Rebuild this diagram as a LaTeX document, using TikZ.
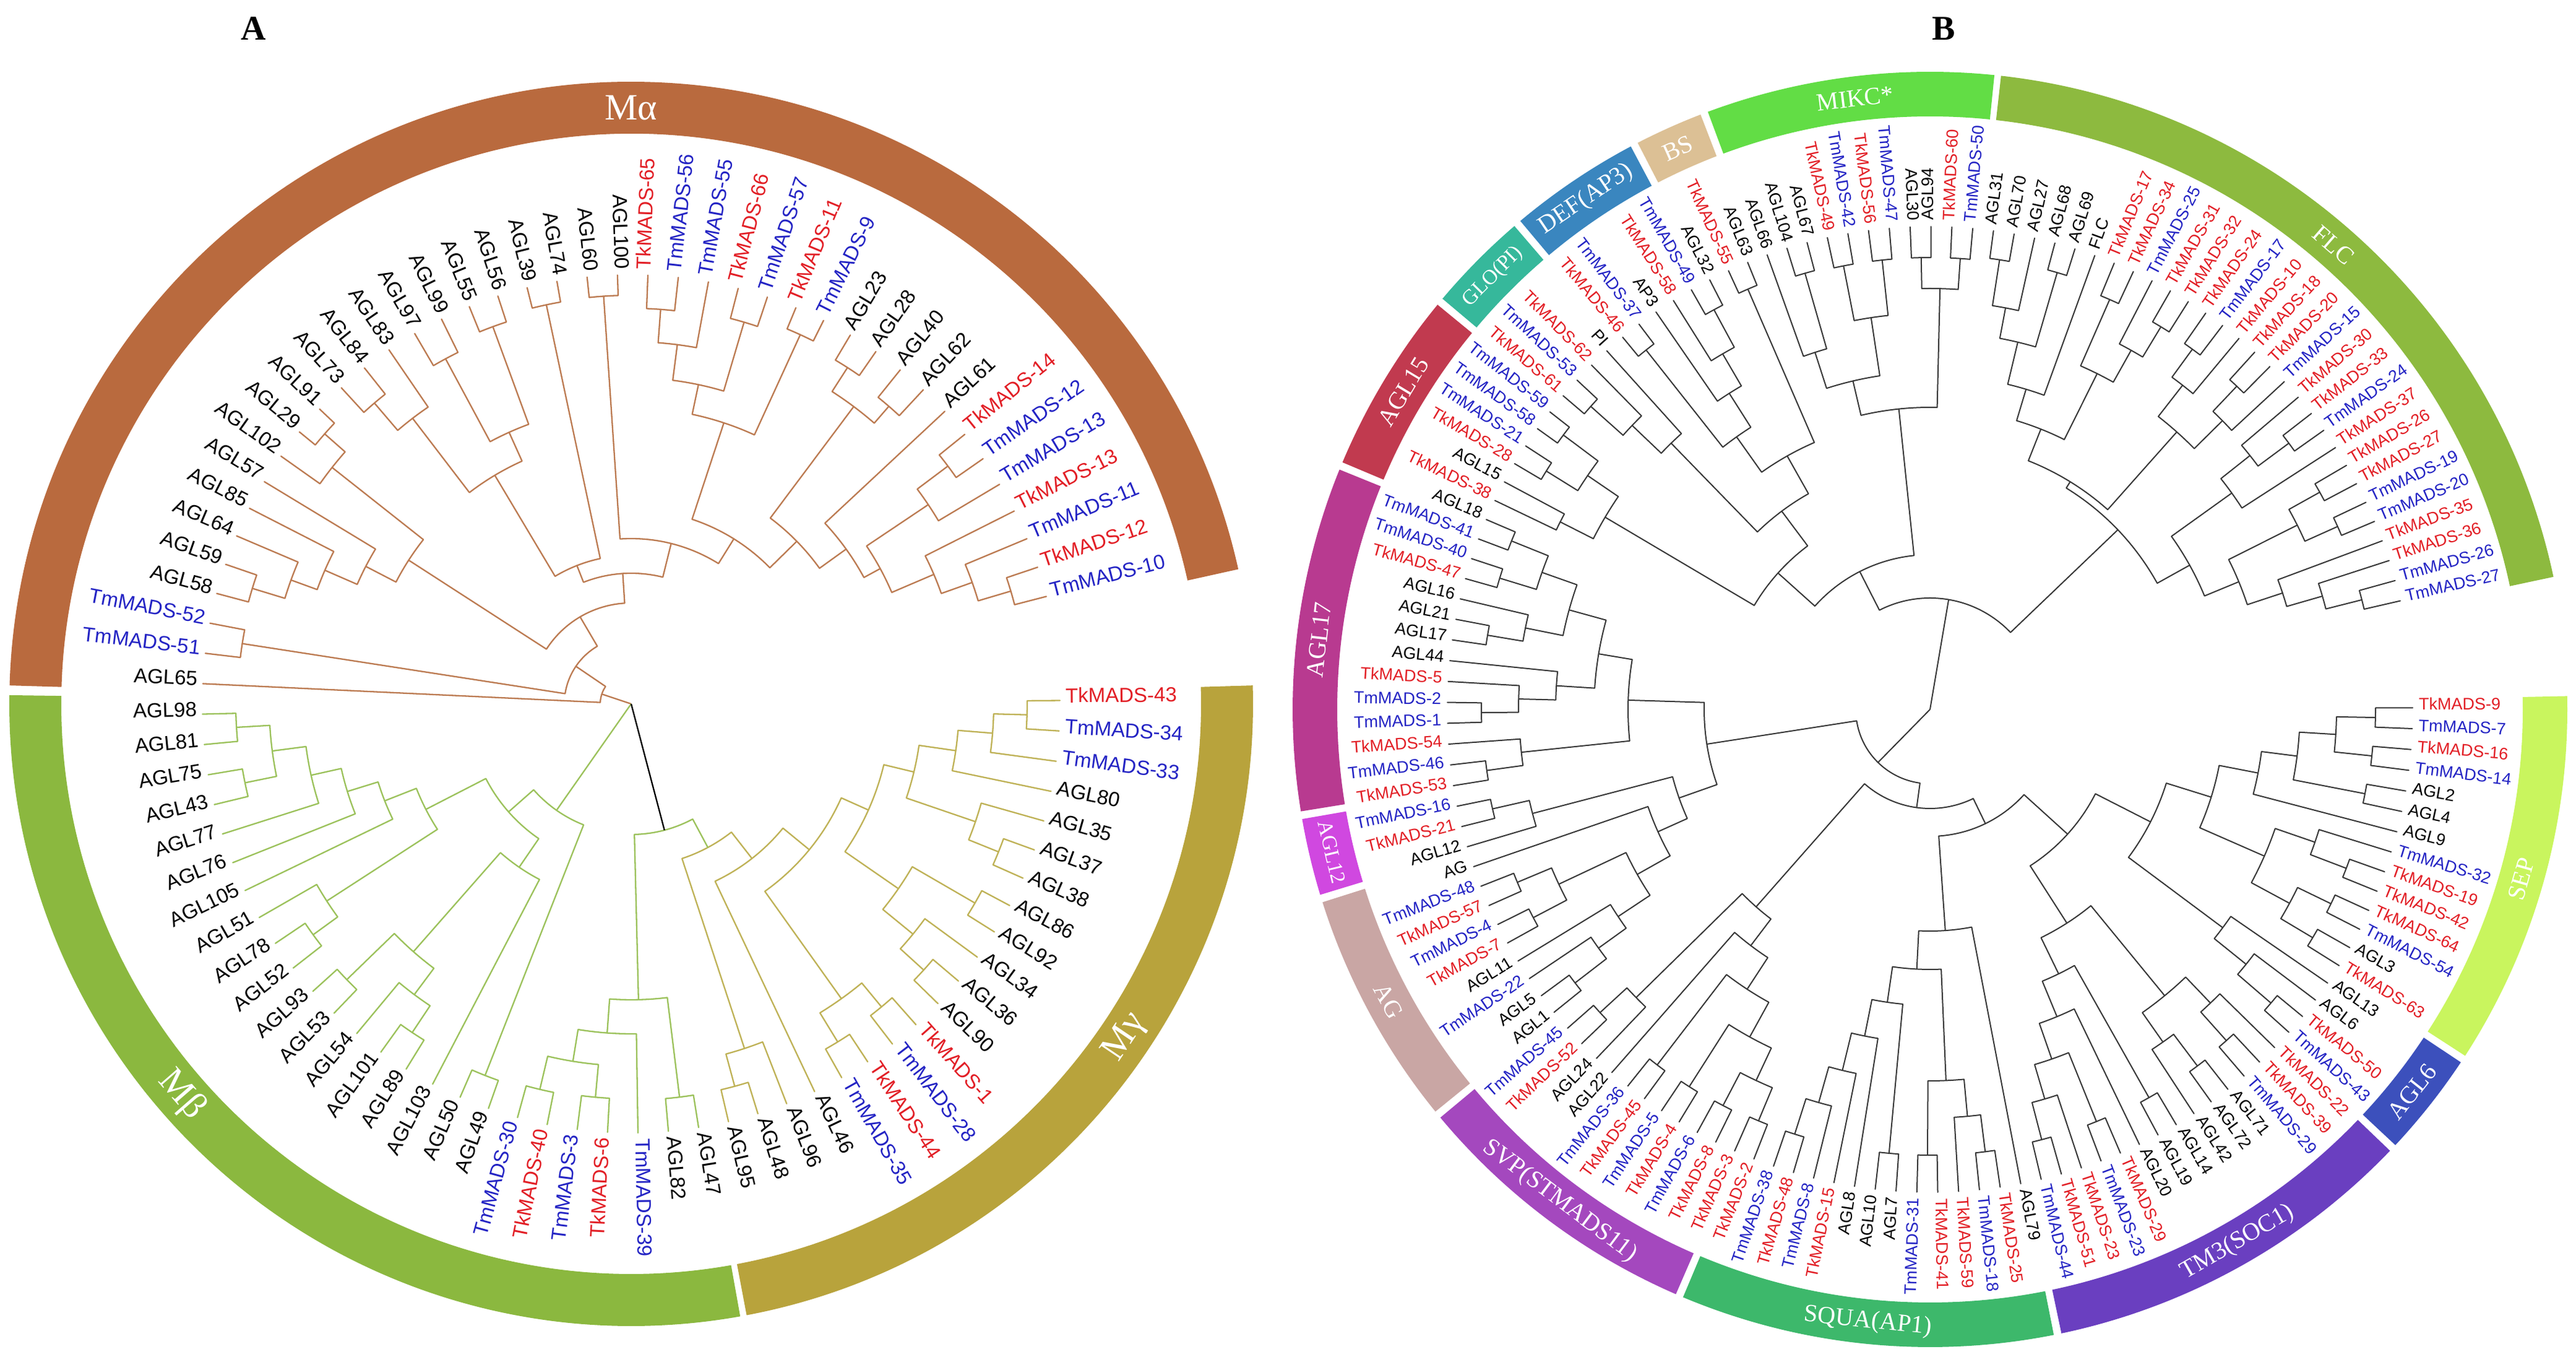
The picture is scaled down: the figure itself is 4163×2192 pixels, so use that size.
\documentclass[tikz,border=0pt]{standalone}
\usepackage{fontspec}
\setmainfont{Liberation Serif}
\newfontfamily\labfont{Liberation Sans}
\definecolor{cRed}{HTML}{E21F26}
\definecolor{cBlue}{HTML}{2424C4}
\definecolor{ringMa}{HTML}{B96A3E}
\definecolor{ringMb}{HTML}{8BB83F}
\definecolor{ringMg}{HTML}{B8A33C}
\definecolor{lineMa}{HTML}{BC7B52}
\definecolor{lineMb}{HTML}{9CC25C}
\definecolor{lineMg}{HTML}{BFB257}
\definecolor{lineB}{HTML}{383838}
\definecolor{rFLC}{HTML}{8DBA3F}
\definecolor{rMIKC}{HTML}{62DD45}
\definecolor{rBS}{HTML}{DCC095}
\definecolor{rDEF}{HTML}{3A86BF}
\definecolor{rGLO}{HTML}{36B89B}
\definecolor{rAGLf}{HTML}{C13A4F}
\definecolor{rAGLs}{HTML}{B83A90}
\definecolor{rAGLt}{HTML}{D048E0}
\definecolor{rAG}{HTML}{C9A6A4}
\definecolor{rSVP}{HTML}{A448BE}
\definecolor{rSQUA}{HTML}{3DB86B}
\definecolor{rTM}{HTML}{6A3FC0}
\definecolor{rAGLx}{HTML}{3C50BC}
\definecolor{rSEP}{HTML}{C9F55E}
\tikzset{
  leafA/.style={font=\labfont\fontsize{33}{33}\selectfont,inner sep=0pt,text height=0.72em,text depth=0pt},
  leafB/.style={font=\labfont\fontsize{27}{27}\selectfont,inner sep=0pt,text height=0.72em,text depth=0pt},
  leaf/.style={leafA},
  cr/.style={text=cRed}, cb/.style={text=cBlue}, ck/.style={text=black},
  lnMa/.style={draw=lineMa,line width=2.3pt},
  lnMb/.style={draw=lineMb,line width=2.3pt},
  lnMg/.style={draw=lineMg,line width=2.3pt},
  lnB/.style={draw=lineB,line width=2pt},
  br/.style={lnMa},
  seglab/.style={text=white,inner sep=0pt},
  segA/.style={font=\fontsize{60}{60}\selectfont},
  segB/.style={font=\fontsize{40}{40}\selectfont},
  segBs/.style={font=\fontsize{34}{34}\selectfont},
  panlab/.style={font=\bfseries\fontsize{56}{56}\selectfont,inner sep=0pt}
}
\newcommand\TLeaf[3]{%
  \pgfmathsetmacro\tmpLa{\Astart+(#1-1)*\Astep}%
  \expandafter\xdef\csname tA@\Pfx#1\endcsname{\tmpLa}%
  \expandafter\xdef\csname tR@\Pfx#1\endcsname{\Rtip}%
  \coordinate (\Pfx#1) at (\tmpLa:\Rtip pt);%
  \pgfmathsetmacro\tmpLc{cos(\tmpLa)}%
  \ifdim\tmpLc pt<0pt\relax
    \pgfmathsetmacro\tmpLr{\tmpLa+180}%
    \node[leaf,#3,rotate=\tmpLr,anchor=east] (\Pfx#1t) at (\tmpLa:\Rlab pt) {#2};%
  \else
    \node[leaf,#3,rotate=\tmpLa,anchor=west] (\Pfx#1t) at (\tmpLa:\Rlab pt) {#2};%
  \fi}
\newcommand\TClade[4]{%
  \edef\tmpAa{\csname tA@\Pfx#3\endcsname}%
  \edef\tmpAb{\csname tA@\Pfx#4\endcsname}%
  \edef\tmpRa{\csname tR@\Pfx#3\endcsname}%
  \edef\tmpRb{\csname tR@\Pfx#4\endcsname}%
  \draw[br,line cap=round,line join=round] (\tmpAa:\tmpRa pt) -- (\tmpAa:#2pt) arc[start angle=\tmpAa,end angle=\tmpAb,radius=#2pt] -- (\tmpAb:\tmpRb pt);%
  \pgfmathsetmacro\tmpAm{(\tmpAa+\tmpAb)/2}%
  \expandafter\xdef\csname tA@\Pfx#1\endcsname{\tmpAm}%
  \expandafter\xdef\csname tR@\Pfx#1\endcsname{#2}%
  \coordinate (\Pfx#1) at (\tmpAm:#2pt);}
\newcommand\TSeg[7]{%
  \fill[#4] (#2:\Rin pt) arc[start angle=#2,end angle=#3,radius=\Rin pt] -- (#3:\Rout pt) arc[start angle=#3,end angle=#2,radius=\Rout pt] -- cycle;%
  \pgfmathsetmacro\tmpSa{#6}%
  \pgfmathsetmacro\tmpSs{sin(\tmpSa)}%
  \ifdim\tmpSs pt<0pt\relax\pgfmathsetmacro\tmpSr{\tmpSa+90}\else\pgfmathsetmacro\tmpSr{\tmpSa-90}\fi
  \node[seglab,#7,rotate=\tmpSr] (#1) at (\tmpSa:\Rmid pt) {#5};}
\begin{document}
\begin{tikzpicture}
\useasboundingbox (0pt,0pt) rectangle (4163pt,2192pt);
\fill[white] (0pt,0pt) rectangle (4163pt,2192pt);
\node[panlab] (labA) at (410pt,2146pt) {A};
\node[panlab] (labB) at (3141pt,2146pt) {B};
% ================= PANEL A =================
\begin{scope}[shift={(1020pt,1055pt)}]
\def\Pfx{a}\def\Astart{14.5}\def\Astep{4.07}\def\Rtip{693}\def\Rlab{702}
\def\Rin{921}\def\Rout{1005}\def\Rmid{963}
\TSeg{segMa}{12.5}{178.3}{ringMa}{Mα}{90}{segA}
\TSeg{segMb}{179.2}{280.1}{ringMb}{Mβ}{221}{segA}
\TSeg{segMg}{280.7}{361.7}{ringMg}{Mγ}{326}{segA}
\tikzset{leaf/.style={leafA}}
\TLeaf{1}{TmMADS-10}{cb}\TLeaf{2}{TkMADS-12}{cr}\TLeaf{3}{TmMADS-11}{cb}\TLeaf{4}{TkMADS-13}{cr}
\TLeaf{5}{TmMADS-13}{cb}\TLeaf{6}{TmMADS-12}{cb}\TLeaf{7}{TkMADS-14}{cr}\TLeaf{8}{AGL61}{ck}
\TLeaf{9}{AGL62}{ck}\TLeaf{10}{AGL40}{ck}\TLeaf{11}{AGL28}{ck}\TLeaf{12}{AGL23}{ck}
\TLeaf{13}{TmMADS-9}{cb}\TLeaf{14}{TkMADS-11}{cr}\TLeaf{15}{TmMADS-57}{cb}\TLeaf{16}{TkMADS-66}{cr}
\TLeaf{17}{TmMADS-55}{cb}\TLeaf{18}{TmMADS-56}{cb}\TLeaf{19}{TkMADS-65}{cr}\TLeaf{20}{AGL100}{ck}
\TLeaf{21}{AGL60}{ck}\TLeaf{22}{AGL74}{ck}\TLeaf{23}{AGL39}{ck}\TLeaf{24}{AGL56}{ck}
\TLeaf{25}{AGL55}{ck}\TLeaf{26}{AGL99}{ck}\TLeaf{27}{AGL97}{ck}\TLeaf{28}{AGL83}{ck}
\TLeaf{29}{AGL84}{ck}\TLeaf{30}{AGL73}{ck}\TLeaf{31}{AGL91}{ck}\TLeaf{32}{AGL29}{ck}
\TLeaf{33}{AGL102}{ck}\TLeaf{34}{AGL57}{ck}\TLeaf{35}{AGL85}{ck}\TLeaf{36}{AGL64}{ck}
\TLeaf{37}{AGL59}{ck}\TLeaf{38}{AGL58}{ck}\TLeaf{39}{TmMADS-52}{cb}\TLeaf{40}{TmMADS-51}{cb}
\TLeaf{41}{AGL65}{ck}\TLeaf{42}{AGL98}{ck}\TLeaf{43}{AGL81}{ck}\TLeaf{44}{AGL75}{ck}
\TLeaf{45}{AGL43}{ck}\TLeaf{46}{AGL77}{ck}\TLeaf{47}{AGL76}{ck}\TLeaf{48}{AGL105}{ck}
\TLeaf{49}{AGL51}{ck}\TLeaf{50}{AGL78}{ck}\TLeaf{51}{AGL52}{ck}\TLeaf{52}{AGL93}{ck}
\TLeaf{53}{AGL53}{ck}\TLeaf{54}{AGL54}{ck}\TLeaf{55}{AGL101}{ck}\TLeaf{56}{AGL89}{ck}
\TLeaf{57}{AGL103}{ck}\TLeaf{58}{AGL50}{ck}\TLeaf{59}{AGL49}{ck}\TLeaf{60}{TmMADS-30}{cb}
\TLeaf{61}{TkMADS-40}{cr}\TLeaf{62}{TmMADS-3}{cb}\TLeaf{63}{TkMADS-6}{cr}\TLeaf{64}{TmMADS-39}{cb}
\TLeaf{65}{AGL82}{ck}\TLeaf{66}{AGL47}{ck}\TLeaf{67}{AGL95}{ck}\TLeaf{68}{AGL48}{ck}
\TLeaf{69}{AGL96}{ck}\TLeaf{70}{AGL46}{ck}\TLeaf{71}{TmMADS-35}{cb}\TLeaf{72}{TkMADS-44}{cr}
\TLeaf{73}{TmMADS-28}{cb}\TLeaf{74}{TkMADS-1}{cr}\TLeaf{75}{AGL90}{ck}\TLeaf{76}{AGL36}{ck}
\TLeaf{77}{AGL34}{ck}\TLeaf{78}{AGL92}{ck}\TLeaf{79}{AGL86}{ck}\TLeaf{80}{AGL38}{ck}
\TLeaf{81}{AGL37}{ck}\TLeaf{82}{AGL35}{ck}\TLeaf{83}{AGL80}{ck}\TLeaf{84}{TmMADS-33}{cb}
\TLeaf{85}{TmMADS-34}{cb}\TLeaf{86}{TkMADS-43}{cr}
% M-alpha
\tikzset{br/.style={lnMa}}
\TClade{A1}{640}{1}{2}\TClade{A2}{585}{A1}{3}\TClade{A3}{532}{A2}{4}
\TClade{A4}{640}{6}{7}\TClade{A5}{578}{5}{A4}\TClade{A6}{458}{A3}{A5}
\TClade{A7}{428}{8}{A6}\TClade{A8}{636}{9}{10}\TClade{A9}{646}{11}{12}
\TClade{A10}{600}{A8}{A9}\TClade{A11}{375}{A7}{A10}
\TClade{A12}{656}{13}{14}\TClade{A13}{643}{15}{16}\TClade{A14}{639}{18}{19}
\TClade{A15}{585}{17}{A14}\TClade{A16}{527}{A13}{A15}\TClade{A17}{478}{A12}{A16}
\TClade{A18}{314}{A11}{A17}\TClade{A19}{660}{20}{21}\TClade{A20}{267}{A18}{A19}
\TClade{A21}{659}{22}{23}\TClade{A22}{649}{24}{25}\TClade{A23}{633}{26}{27}
\TClade{A24}{481}{A22}{A23}\TClade{A25}{639}{29}{30}\TClade{A26}{581}{28}{A25}
\TClade{A27}{430}{A24}{A26}\TClade{A28}{240}{A21}{A27}\TClade{A29}{211}{A20}{A28}
\TClade{A30}{660}{31}{32}\TClade{A31}{616}{A30}{33}\TClade{A32}{640}{37}{38}
\TClade{A33}{585}{36}{A32}\TClade{A34}{540}{35}{A33}\TClade{A35}{483}{34}{A34}
\TClade{A36}{428}{A31}{A35}\TClade{A37}{163}{A29}{A36}\TClade{A38}{636}{39}{40}
\TClade{A39}{108}{A37}{A38}\TClade{A40}{50}{A39}{41}
% M-beta
\tikzset{br/.style={lnMb}}
\TClade{C1}{639}{42}{43}\TClade{C2}{637}{44}{45}\TClade{C3}{585}{C1}{C2}
\TClade{C4}{530}{C3}{46}\TClade{C5}{480}{C4}{47}\TClade{C6}{428}{C5}{48}
\TClade{C7}{635}{50}{51}\TClade{C8}{586}{49}{C7}\TClade{C9}{373}{C6}{C8}
\TClade{C10}{640}{52}{53}\TClade{C11}{638}{55}{56}\TClade{C12}{586}{54}{C11}
\TClade{C13}{533}{C10}{C12}\TClade{C14}{320}{C13}{57}\TClade{C15}{264}{C9}{C14}
\TClade{C16}{645}{58}{59}\TClade{C17}{210}{C15}{C16}
\TClade{B1}{640}{60}{61}\TClade{B2}{638}{62}{63}\TClade{B3}{585}{B1}{B2}
\TClade{B4}{533}{B3}{64}\TClade{B5}{640}{65}{66}\TClade{B6}{478}{B4}{B5}
% M-gamma
\tikzset{br/.style={lnMg}}
\TClade{M17}{640}{67}{68}\TClade{M18}{586}{M17}{69}
\TClade{M1}{639}{75}{76}\TClade{M2}{588}{M1}{77}\TClade{M3}{642}{78}{79}
\TClade{M4}{525}{M2}{M3}\TClade{M5}{640}{80}{81}\TClade{M6}{588}{M5}{82}
\TClade{M7}{640}{85}{86}\TClade{M8}{586}{84}{M7}\TClade{M9}{530}{83}{M8}
\TClade{M10}{470}{M6}{M9}\TClade{M11}{420}{M4}{M10}
\TClade{M12}{640}{71}{72}\TClade{M13}{635}{73}{74}\TClade{M14}{585}{M12}{M13}
\TClade{M15}{372}{M14}{M11}\TClade{M16}{317}{70}{M15}\TClade{M19}{263}{M18}{M16}
\tikzset{br/.style={lnMb}}
\TClade{Y}{211}{B6}{M19}
\coordinate (aRoot) at (0pt,0pt);
\draw[lnMa] (aRoot) -- (aA40);
\draw[lnMb] (aRoot) -- (aC17);
\draw[black,line width=2.3pt] (aRoot) -- (aY);
\end{scope}
% ================= PANEL B =================
\begin{scope}[shift={(3119pt,1046pt)}]
\def\Pfx{b}\def\Astart{13}\def\Astep{2.48}\def\Rtip{780}\def\Rlab{790}
\def\Rin{958}\def\Rout{1030}\def\Rmid{994}
\TSeg{sFLC}{12.0}{83.6}{rFLC}{FLC}{49}{segB}
\TSeg{sMIKC}{84.2}{110.4}{rMIKC}{MIKC*}{97}{segB}
\TSeg{sBS}{111.1}{117.3}{rBS}{BS}{114.2}{segB}
\TSeg{sDEF}{118.0}{130.0}{rDEF}{DEF(AP3)}{124}{segB}
\TSeg{sGLO}{130.7}{139.9}{rGLO}{GLO(PI)}{135.3}{segBs}
\TSeg{sAGLf}{140.6}{157.2}{rAGLf}{AGL15}{148.9}{segB}
\TSeg{sAGLs}{157.9}{189.2}{rAGLs}{AGL17}{173.5}{segB}
\TSeg{sAGLt}{189.9}{196.9}{rAGLt}{AGL12}{193.4}{segBs}
\TSeg{sAG}{197.6}{219.1}{rAG}{AG}{208.3}{segB}
\TSeg{sSVP}{219.8}{246.5}{rSVP}{SVP(STMADS11)}{233}{segB}
\TSeg{sSQUA}{247.2}{281.2}{rSQUA}{SQUA(AP1)}{264.2}{segB}
\TSeg{sTM}{281.9}{316.2}{rTM}{TM3(SOC1)}{300}{segB}
\TSeg{sAGLx}{316.9}{326.4}{rAGLx}{AGL6}{321.6}{segB}
\TSeg{sSEP}{327.1}{361.2}{rSEP}{SEP}{344}{segB}
\tikzset{leaf/.style={leafB}}
\TLeaf{1}{TmMADS-27}{cb}\TLeaf{2}{TmMADS-26}{cb}\TLeaf{3}{TkMADS-36}{cr}\TLeaf{4}{TkMADS-35}{cr}
\TLeaf{5}{TmMADS-20}{cb}\TLeaf{6}{TmMADS-19}{cb}\TLeaf{7}{TkMADS-27}{cr}\TLeaf{8}{TkMADS-26}{cr}
\TLeaf{9}{TkMADS-37}{cr}\TLeaf{10}{TmMADS-24}{cb}\TLeaf{11}{TkMADS-33}{cr}\TLeaf{12}{TkMADS-30}{cr}
\TLeaf{13}{TmMADS-15}{cb}\TLeaf{14}{TkMADS-20}{cr}\TLeaf{15}{TkMADS-18}{cr}\TLeaf{16}{TkMADS-10}{cr}
\TLeaf{17}{TmMADS-17}{cb}\TLeaf{18}{TkMADS-24}{cr}\TLeaf{19}{TkMADS-32}{cr}\TLeaf{20}{TkMADS-31}{cr}
\TLeaf{21}{TmMADS-25}{cb}\TLeaf{22}{TkMADS-34}{cr}\TLeaf{23}{TkMADS-17}{cr}\TLeaf{24}{FLC}{ck}
\TLeaf{25}{AGL69}{ck}\TLeaf{26}{AGL68}{ck}\TLeaf{27}{AGL27}{ck}\TLeaf{28}{AGL70}{ck}
\TLeaf{29}{AGL31}{ck}\TLeaf{30}{TmMADS-50}{cb}\TLeaf{31}{TkMADS-60}{cr}\TLeaf{32}{AGL94}{ck}
\TLeaf{33}{AGL30}{ck}\TLeaf{34}{TmMADS-47}{cb}\TLeaf{35}{TkMADS-56}{cr}\TLeaf{36}{TmMADS-42}{cb}
\TLeaf{37}{TkMADS-49}{cr}\TLeaf{38}{AGL67}{ck}\TLeaf{39}{AGL104}{ck}\TLeaf{40}{AGL66}{ck}
\TLeaf{41}{AGL63}{ck}\TLeaf{42}{TkMADS-55}{cr}\TLeaf{43}{AGL32}{ck}\TLeaf{44}{TmMADS-49}{cb}
\TLeaf{45}{TkMADS-58}{cr}\TLeaf{46}{AP3}{ck}\TLeaf{47}{TmMADS-37}{cb}\TLeaf{48}{TkMADS-46}{cr}
\TLeaf{49}{PI}{ck}\TLeaf{50}{TkMADS-62}{cr}\TLeaf{51}{TmMADS-53}{cb}\TLeaf{52}{TkMADS-61}{cr}
\TLeaf{53}{TmMADS-59}{cb}\TLeaf{54}{TmMADS-58}{cb}\TLeaf{55}{TmMADS-21}{cb}\TLeaf{56}{TkMADS-28}{cr}
\TLeaf{57}{AGL15}{ck}\TLeaf{58}{TkMADS-38}{cr}\TLeaf{59}{AGL18}{ck}\TLeaf{60}{TmMADS-41}{cb}
\TLeaf{61}{TmMADS-40}{cb}\TLeaf{62}{TkMADS-47}{cr}\TLeaf{63}{AGL16}{ck}\TLeaf{64}{AGL21}{ck}
\TLeaf{65}{AGL17}{ck}\TLeaf{66}{AGL44}{ck}\TLeaf{67}{TkMADS-5}{cr}\TLeaf{68}{TmMADS-2}{cb}
\TLeaf{69}{TmMADS-1}{cb}\TLeaf{70}{TkMADS-54}{cr}\TLeaf{71}{TmMADS-46}{cb}\TLeaf{72}{TkMADS-53}{cr}
\TLeaf{73}{TmMADS-16}{cb}\TLeaf{74}{TkMADS-21}{cr}\TLeaf{75}{AGL12}{ck}\TLeaf{76}{AG}{ck}
\TLeaf{77}{TmMADS-48}{cb}\TLeaf{78}{TkMADS-57}{cr}\TLeaf{79}{TmMADS-4}{cb}\TLeaf{80}{TkMADS-7}{cr}
\TLeaf{81}{AGL11}{ck}\TLeaf{82}{TmMADS-22}{cb}\TLeaf{83}{AGL5}{ck}\TLeaf{84}{AGL1}{ck}
\TLeaf{85}{TmMADS-45}{cb}\TLeaf{86}{TkMADS-52}{cr}\TLeaf{87}{AGL24}{ck}\TLeaf{88}{AGL22}{ck}
\TLeaf{89}{TmMADS-36}{cb}\TLeaf{90}{TkMADS-45}{cr}\TLeaf{91}{TmMADS-5}{cb}\TLeaf{92}{TkMADS-4}{cr}
\TLeaf{93}{TmMADS-6}{cb}\TLeaf{94}{TkMADS-8}{cr}\TLeaf{95}{TkMADS-3}{cr}\TLeaf{96}{TkMADS-2}{cr}
\TLeaf{97}{TmMADS-38}{cb}\TLeaf{98}{TkMADS-48}{cr}\TLeaf{99}{TmMADS-8}{cb}\TLeaf{100}{TkMADS-15}{cr}
\TLeaf{101}{AGL8}{ck}\TLeaf{102}{AGL10}{ck}\TLeaf{103}{AGL7}{ck}\TLeaf{104}{TmMADS-31}{cb}
\TLeaf{105}{TkMADS-41}{cr}\TLeaf{106}{TkMADS-59}{cr}\TLeaf{107}{TmMADS-18}{cb}\TLeaf{108}{TkMADS-25}{cr}
\TLeaf{109}{AGL79}{ck}\TLeaf{110}{TmMADS-44}{cb}\TLeaf{111}{TkMADS-51}{cr}\TLeaf{112}{TkMADS-23}{cr}
\TLeaf{113}{TmMADS-23}{cb}\TLeaf{114}{TkMADS-29}{cr}\TLeaf{115}{AGL20}{ck}\TLeaf{116}{AGL19}{ck}
\TLeaf{117}{AGL14}{ck}\TLeaf{118}{AGL42}{ck}\TLeaf{119}{AGL72}{ck}\TLeaf{120}{AGL71}{ck}
\TLeaf{121}{TmMADS-29}{cb}\TLeaf{122}{TkMADS-39}{cr}\TLeaf{123}{TkMADS-22}{cr}\TLeaf{124}{TmMADS-43}{cb}
\TLeaf{125}{TkMADS-50}{cr}\TLeaf{126}{AGL6}{ck}\TLeaf{127}{AGL13}{ck}\TLeaf{128}{TkMADS-63}{cr}
\TLeaf{129}{AGL3}{ck}\TLeaf{130}{TmMADS-54}{cb}\TLeaf{131}{TkMADS-64}{cr}\TLeaf{132}{TkMADS-42}{cr}
\TLeaf{133}{TkMADS-19}{cr}\TLeaf{134}{TmMADS-32}{cb}\TLeaf{135}{AGL9}{ck}\TLeaf{136}{AGL4}{ck}
\TLeaf{137}{AGL2}{ck}\TLeaf{138}{TmMADS-14}{cb}\TLeaf{139}{TkMADS-16}{cr}\TLeaf{140}{TmMADS-7}{cb}
\TLeaf{141}{TkMADS-9}{cr}
\tikzset{br/.style={lnB}}
% FLC
\TClade{F1}{720}{1}{2}\TClade{F2}{660}{3}{F1}\TClade{F3}{600}{4}{F2}
\TClade{F4}{722}{5}{6}\TClade{F5}{721}{7}{8}\TClade{F6}{664}{F4}{F5}\TClade{F7}{540}{F3}{F6}
\TClade{G1}{722}{10}{11}\TClade{G2}{660}{G1}{12}\TClade{G3}{600}{9}{G2}\TClade{H1}{480}{F7}{G3}
\TClade{G4}{720}{14}{15}\TClade{G5}{664}{13}{G4}\TClade{G6a}{720}{17}{18}\TClade{G6}{664}{16}{G6a}
\TClade{G7}{600}{G5}{G6}\TClade{G8}{722}{19}{20}\TClade{G9}{665}{G8}{21}\TClade{G10}{723}{22}{23}
\TClade{G11}{606}{G9}{G10}\TClade{K1}{735}{28}{29}\TClade{K2}{660}{27}{K1}\TClade{K3}{735}{25}{26}
\TClade{K4}{610}{K3}{K2}\TClade{K5}{540}{24}{K4}\TClade{K6}{487}{G11}{K5}\TClade{H2}{432}{G7}{K6}
\TClade{FL}{420}{H1}{H2}
% MIKC*
\TClade{P1}{730}{30}{31}\TClade{P2}{730}{32}{33}\TClade{P3}{680}{P1}{P2}
\TClade{P4}{730}{34}{35}\TClade{P5}{730}{36}{37}\TClade{P6}{640}{P4}{P5}
\TClade{P7}{733}{38}{39}\TClade{P8}{606}{P7}{40}\TClade{P9}{545}{P6}{P8}\TClade{P10}{488}{P3}{P9}
% BS / DEF / GLO / AGL15
\TClade{D1}{740}{41}{42}\TClade{D2}{734}{43}{44}\TClade{D3}{665}{45}{D2}
\TClade{D4}{740}{47}{48}\TClade{D5}{605}{D3}{46}\TClade{D6}{540}{D5}{D4}\TClade{D7}{470}{D1}{D6}
\TClade{E1}{735}{51}{52}\TClade{E2}{665}{50}{E1}\TClade{E3}{600}{49}{E2}
\TClade{E4}{740}{53}{54}\TClade{E5}{730}{55}{56}\TClade{E6}{670}{E4}{E5}
\TClade{E7}{670}{57}{58}\TClade{E8}{610}{E6}{E7}
\TClade{Z1}{400}{D7}{E3}\TClade{Z2}{330}{Z1}{E8}\TClade{Z3}{250}{P10}{Z2}\TClade{Z4}{180}{FL}{Z3}
% AGL17 / AGL12 / AG
\TClade{R1}{729}{59}{60}\TClade{R2}{727}{61}{62}\TClade{R3}{665}{R1}{R2}
\TClade{R4}{725}{64}{65}\TClade{R5}{667}{63}{R4}\TClade{R6}{605}{R3}{R5}
\TClade{R7}{725}{68}{69}\TClade{R8}{665}{67}{R7}\TClade{R9}{605}{66}{R8}\TClade{R10}{543}{R6}{R9}
\TClade{R11}{723}{71}{72}\TClade{R12}{664}{70}{R11}\TClade{R13}{488}{R10}{R12}
\TClade{R14}{725}{73}{74}\TClade{R15}{664}{R14}{75}
\TClade{J1}{723}{77}{78}\TClade{J2}{724}{79}{80}\TClade{J3}{663}{J1}{J2}
\TClade{J4}{724}{83}{84}\TClade{J5}{660}{82}{J4}\TClade{J6}{605}{81}{J5}
\TClade{J7}{543}{J3}{J6}\TClade{J8}{482}{76}{J7}
\TClade{Y1}{430}{R15}{J8}\TClade{Y2}{365}{R13}{Y1}
% SVP
\TClade{S1}{724}{85}{86}\TClade{S2}{665}{S1}{87}\TClade{S3}{724}{89}{90}
\TClade{S4}{723}{91}{92}\TClade{S5}{722}{93}{94}\TClade{S6}{720}{95}{96}
\TClade{S7}{662}{S5}{S6}\TClade{S8}{604}{S4}{S7}\TClade{S9}{540}{S3}{S8}
\TClade{S10}{479}{88}{S9}\TClade{S11}{425}{S2}{S10}
% SQUA
\TClade{Q1}{720}{97}{98}\TClade{Q2}{660}{99}{Q1}\TClade{Q3}{600}{100}{Q2}
\TClade{Q4}{538}{101}{Q3}\TClade{Q5}{720}{102}{103}\TClade{Q6}{478}{Q4}{Q5}
\TClade{Q7}{720}{104}{105}\TClade{Q8}{720}{107}{108}\TClade{Q9}{660}{106}{Q8}
\TClade{Q10}{600}{Q7}{Q9}\TClade{Q11}{420}{Q6}{Q10}\TClade{Q12}{358}{Q11}{109}
% TM3
\TClade{T1}{718}{110}{111}\TClade{T2}{656}{T1}{112}\TClade{T3}{718}{113}{114}
\TClade{T4}{598}{T2}{T3}\TClade{T5}{537}{T4}{115}\TClade{T6}{720}{116}{117}
\TClade{T7}{475}{T5}{T6}\TClade{T8}{720}{119}{120}\TClade{T9}{656}{118}{T8}
\TClade{T10}{718}{121}{122}\TClade{T11}{656}{T10}{123}\TClade{T12}{598}{T9}{T11}
\TClade{T13}{410}{T7}{T12}
% AGL6
\TClade{U1}{727}{124}{125}\TClade{U2}{656}{U1}{126}\TClade{U3}{590}{U2}{127}
% SEP
\TClade{V1}{720}{140}{141}\TClade{V2}{718}{138}{139}\TClade{V3}{657}{V2}{V1}
\TClade{V4}{716}{136}{137}\TClade{V5}{598}{V4}{V3}\TClade{V6}{540}{135}{V5}
\TClade{V7}{720}{132}{133}\TClade{V8}{658}{V7}{134}\TClade{V9}{720}{130}{131}
\TClade{V10}{720}{128}{129}\TClade{V11}{660}{V10}{V9}\TClade{V12}{590}{V11}{V8}
\TClade{V13}{476}{V12}{V6}
% deep
\TClade{X1}{400}{U3}{V13}\TClade{X2}{300}{T13}{X1}\TClade{X3}{205}{Q12}{X2}
\TClade{X4}{160}{S11}{X3}\TClade{X5}{120}{Y2}{X4}
\coordinate (bRoot) at (0pt,0pt);
\draw[lnB] (bRoot) -- (bZ4);
\draw[lnB] (bRoot) -- (bX5);
\end{scope}
\end{tikzpicture}
\end{document}
